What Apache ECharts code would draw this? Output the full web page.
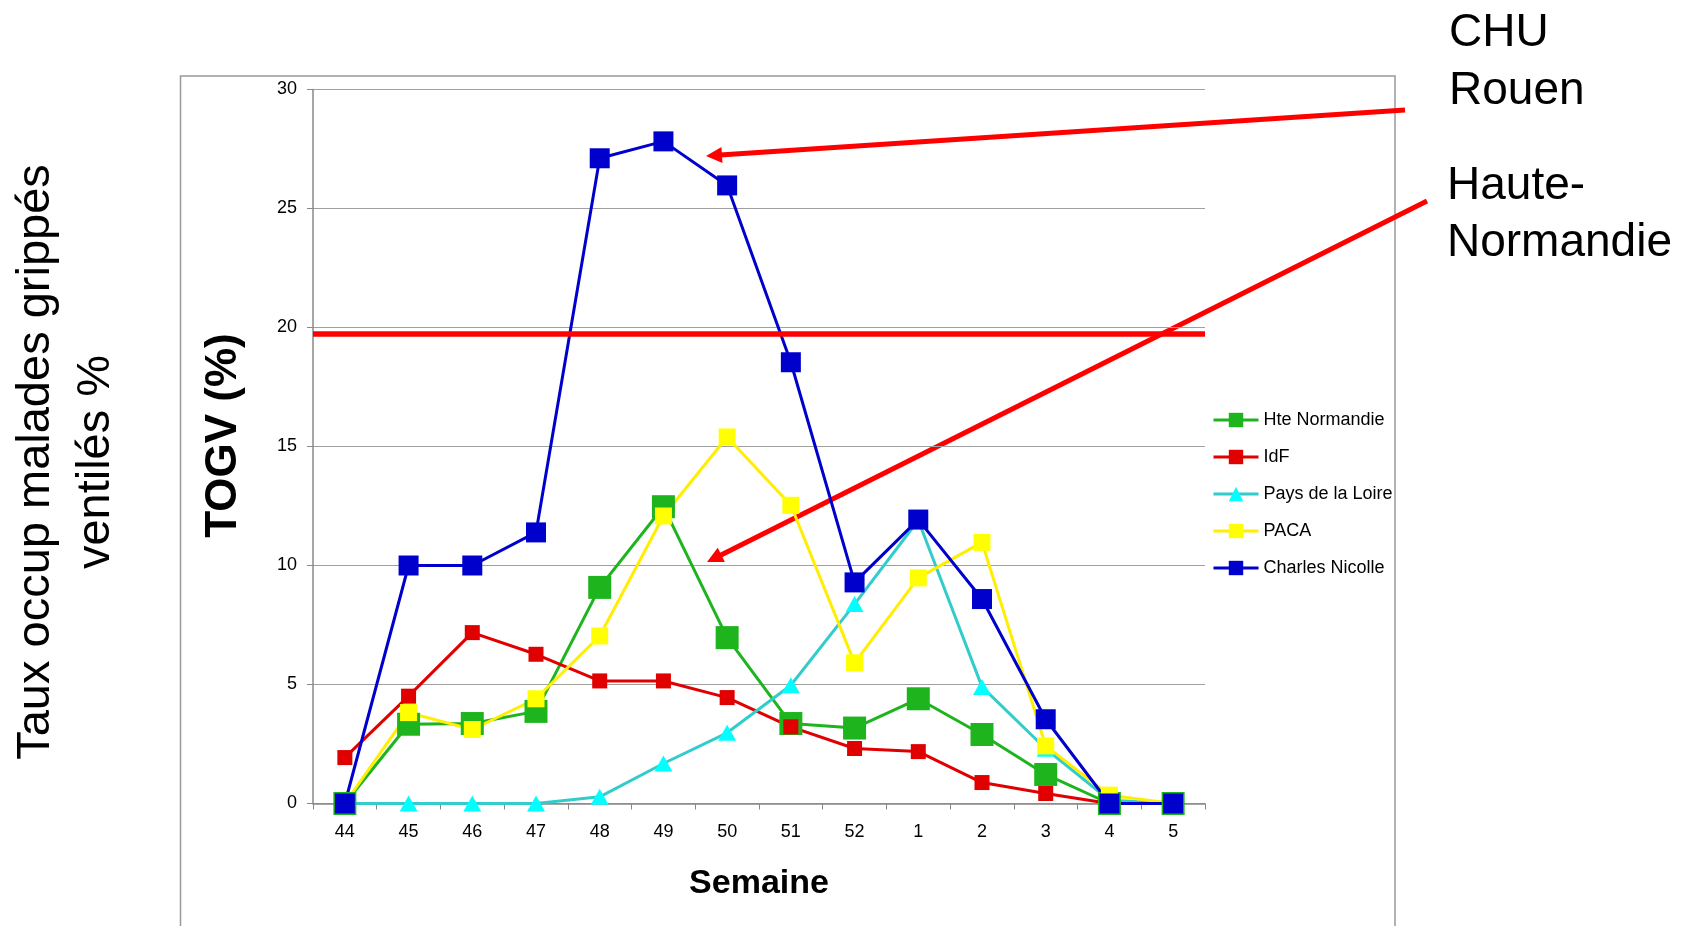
<!DOCTYPE html>
<html>
<head>
<meta charset="utf-8">
<script src="https://cdn.jsdelivr.net/npm/echarts@6/dist/echarts.min.js"></script>
<style>
html,body{margin:0;padding:0;background:#fff;}
#chart{width:1697px;height:926px;}
</style>
</head>
<body>
<div id="chart"></div>
<script>
// ---- data ----
var weeks = ['44','45','46','47','48','49','50','51','52','1','2','3','4','5'];
var yTicks = [0, 5, 10, 15, 20, 25, 30];
var hteNormandie   = [0, 3.33, 3.36, 3.87, 9.08, 12.47, 6.97, 3.36, 3.17, 4.4, 2.9, 1.22, 0, 0];
var idf            = [1.93, 4.51, 7.18, 6.27, 5.15, 5.15, 4.45, 3.22, 2.31, 2.18, 0.88, 0.42, 0, 0];
var paysDeLaLoire  = [0, 0, 0, 0, 0.28, 1.68, 2.97, 4.97, 8.38, 11.9, 4.9, 2.3, 0.14, 0];
var paca           = [0, 3.82, 3.11, 4.4, 7.04, 12.08, 15.4, 12.53, 5.91, 9.48, 10.97, 2.42, 0.35, 0];
var charlesNicolle = [0, 10, 10, 11.39, 27.11, 27.82, 25.97, 18.54, 9.29, 11.93, 8.59, 3.54, 0, 0];
var seuil = 19.75;
var seriesNames = ['Hte Normandie', 'IdF', 'Pays de la Loire', 'PACA', 'Charles Nicolle'];

var FONT = "'Liberation Sans', Arial, sans-serif";

function arrow(x1, y1, x2, y2, color, w, headLen, headHalf) {
  var dx = x2 - x1, dy = y2 - y1, L = Math.sqrt(dx*dx + dy*dy);
  var ux = dx / L, uy = dy / L, nx = -uy, ny = ux;
  var bx = x2 - ux * headLen, by = y2 - uy * headLen;
  return [
    { type: 'line', silent: true, shape: { x1: x1, y1: y1, x2: bx + ux * 2, y2: by + uy * 2 },
      style: { stroke: color, lineWidth: w } },
    { type: 'polygon', silent: true,
      shape: { points: [[x2, y2], [bx + nx * headHalf, by + ny * headHalf], [bx - nx * headHalf, by - ny * headHalf]] },
      style: { fill: color } }
  ];
}

var chart = echarts.init(document.getElementById('chart'));

var graphics = [
  { type: 'rect', silent: true, z: -10,
    shape: { x: 180.5, y: 76, width: 1214.5, height: 900 },
    style: { fill: 'none', stroke: '#999', lineWidth: 1.5 } },
  { type: 'text', silent: true, x: 66.5, y: 462, rotation: Math.PI / 2,
    style: { text: 'Taux occup malades grippés\nventilés %', font: '47px ' + FONT, fill: '#000',
             textAlign: 'center', textVerticalAlign: 'middle', lineHeight: 60 } },
  { type: 'text', silent: true, x: 1449, y: 4,
    style: { text: 'CHU\nRouen', font: '46px ' + FONT, fill: '#000',
             textAlign: 'left', textVerticalAlign: 'top', lineHeight: 58 } },
  { type: 'text', silent: true, x: 1447, y: 158,
    style: { text: 'Haute-\nNormandie', font: '46px ' + FONT, fill: '#000',
             textAlign: 'left', textVerticalAlign: 'top', lineHeight: 57 } }
].concat(arrow(1405, 110, 706, 156, '#ff0000', 5, 16, 8))
 .concat(arrow(1427, 201, 707, 562, '#ff0000', 5, 16, 8));

function lineSeries(name, data, color, markerColor, symbol, size) {
  return {
    name: name, type: 'line', data: data,
    symbol: symbol, symbolSize: size, showSymbol: true,
    lineStyle: { color: color, width: 3 },
    itemStyle: { color: markerColor, borderWidth: 0 },
    emphasis: { disabled: true }
  };
}

var series = [
  lineSeries(seriesNames[0], hteNormandie, '#1eb41e', '#1eb41e', 'rect', 23),
  lineSeries(seriesNames[1], idf, '#e00000', '#e00000', 'rect', 15),
  lineSeries(seriesNames[2], paysDeLaLoire, '#33cccc', '#00ffff', 'triangle', [18, 16]),
  lineSeries(seriesNames[3], paca, '#ffee00', '#ffff00', 'rect', 17),
  lineSeries(seriesNames[4], charlesNicolle, '#0000cc', '#0000cc', 'rect', 20)
];
series[0].markLine = {
  silent: true, symbol: 'none', label: { show: false },
  lineStyle: { color: '#ff0000', width: 5.5, type: 'solid' },
  data: [{ yAxis: seuil }]
};

chart.setOption({
  animation: false,
  backgroundColor: '#fff',
  textStyle: { fontFamily: FONT },
  grid: { left: 313, top: 89.5, right: 492, bottom: 122.5, containLabel: false },
  legend: {
    orient: 'vertical', left: 1207, top: 406,
    itemWidth: 45, itemHeight: 18, itemGap: 19,
    lineStyle: { width: 3 },
    textStyle: { fontSize: 18, color: '#000', fontFamily: FONT },
    data: seriesNames
  },
  xAxis: {
    type: 'category', data: weeks, boundaryGap: true,
    name: 'Semaine', nameLocation: 'middle', nameGap: 63,
    nameTextStyle: { fontSize: 34, fontWeight: 'bold', color: '#000', fontFamily: FONT },
    axisLine: { lineStyle: { color: '#888', width: 1.5 } },
    axisTick: { show: true, length: 6, lineStyle: { color: '#888' } },
    axisLabel: { fontSize: 18, color: '#000', margin: 20, fontFamily: FONT },
    splitLine: { show: false }
  },
  yAxis: {
    type: 'value', min: yTicks[0], max: yTicks[yTicks.length - 1], interval: yTicks[1] - yTicks[0],
    name: 'TOGV (%)', nameLocation: 'middle', nameGap: 67, nameRotate: 90,
    nameTextStyle: { fontSize: 44, fontWeight: 'bold', color: '#000', fontFamily: FONT, padding: [0, 0, 0, 22] },
    axisLine: { show: true, lineStyle: { color: '#888', width: 1.5 } },
    axisTick: { show: true, length: 6, lineStyle: { color: '#888' } },
    axisLabel: { fontSize: 18, color: '#000', margin: 16, fontFamily: FONT },
    splitLine: { show: true, lineStyle: { color: '#a0a0a0', width: 1 } }
  },
  graphic: graphics,
  series: series
});
</script>
</body>
</html>
